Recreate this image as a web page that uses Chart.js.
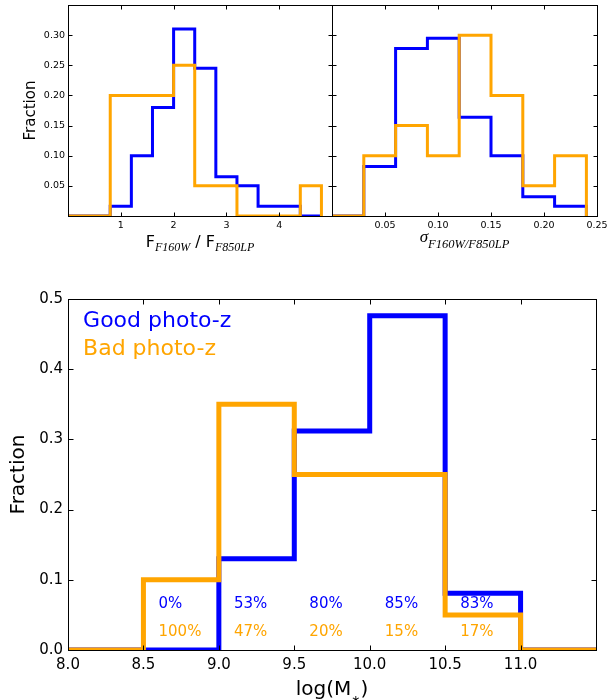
<!DOCTYPE html>
<html lang="en">
<head>
  <meta charset="UTF-8">
  <title>Good vs bad photo-z histograms</title>
  <script src="https://cdn.jsdelivr.net/npm/chart.js"></script>
  <style>
    body { margin: 0; background: white; }
    #wrap { position: relative; width: 615px; height: 700px; }
    #wrap canvas { position: absolute; left: 0; top: 0; }
  </style>
</head>
<body>
  <div id="wrap">
    <canvas id="ratioChart" width="615" height="700"></canvas>
    <canvas id="sigmaChart" width="615" height="700"></canvas>
    <canvas id="massChart" width="615" height="700"></canvas>
  </div>

  <script>
    // top left: flux ratio F160W / F850LP
    const ratioEdges = [0, 0.4, 0.8, 1.2, 1.6, 2.0, 2.4, 2.8, 3.2, 3.6, 4.0, 4.4, 4.8];
    const ratioGood = [0, 0, 0.016, 0.10, 0.18, 0.31, 0.245, 0.065, 0.05, 0.016, 0.016, 0];
    const ratioBad = [0, 0, 0.20, 0.20, 0.20, 0.25, 0.05, 0.05, 0, 0, 0, 0.05];

    // top right: sigma of the ratio
    const sigmaEdges = [0, 0.03, 0.06, 0.09, 0.12, 0.15, 0.18, 0.21, 0.24];
    const sigmaGood = [0, 0.082, 0.278, 0.295, 0.164, 0.10, 0.032, 0.016];
    const sigmaBad = [0, 0.10, 0.15, 0.10, 0.30, 0.20, 0.05, 0.10];

    // bottom: stellar mass
    const massEdges = [8.0, 8.5, 9.0, 9.5, 10.0, 10.5, 11.0, 11.5];
    const massGood = [0, 0, 0.13, 0.312, 0.476, 0.081, 0];
    const massBad = [0, 0.10, 0.35, 0.25, 0.25, 0.05, 0];

    // per-bin share of good / bad photo-z
    const pctBins = [8.5, 9.0, 9.5, 10.0, 10.5];
    const goodPct = ['0%', '53%', '80%', '85%', '83%'];
    const badPct = ['100%', '47%', '20%', '15%', '17%'];

    const BLUE = '#0000ff';
    const ORANGE = '#ffa500';
    const SANS = '"DejaVu Sans", sans-serif';
    const SERIF = '"Liberation Serif", serif';

    function stepPoints(edges, values) {
      const pts = values.map((v, i) => ({ x: edges[i], y: v }));
      pts.push({ x: edges[edges.length - 1], y: 0 });
      return pts;
    }

    function histSet(edges, values, color, width) {
      return {
        data: stepPoints(edges, values),
        borderColor: color,
        borderWidth: width,
        stepped: true,
        pointRadius: 0,
        fill: false,
        borderJoinStyle: 'miter',
        borderCapStyle: 'butt'
      };
    }

    // force the axis box size so chart areas line up across canvases
    function fixBox(size) {
      return function (scale) {
        if (scale.isHorizontal()) scale.height = size;
        else scale.width = size;
        scale.paddingLeft = scale.paddingRight = scale.paddingTop = scale.paddingBottom = 0;
      };
    }

    // matplotlib style frame with inward ticks on all four sides
    const frameTicks = {
      id: 'frameTicks',
      afterDraw(chart, args, opts) {
        const { ctx, chartArea: a, scales } = chart;
        const len = opts.len || 4;
        const L = Math.round(a.left) + 0.5, R = Math.round(a.right) + 0.5;
        const T = Math.round(a.top) + 0.5, B = Math.round(a.bottom) + 0.5;
        ctx.save();
        ctx.strokeStyle = 'black';
        ctx.lineWidth = 1;
        ctx.strokeRect(L, T, R - L, B - T);
        ctx.beginPath();
        scales.x.ticks.forEach(t => {
          const px = Math.round(scales.x.getPixelForValue(t.value)) + 0.5;
          ctx.moveTo(px, B); ctx.lineTo(px, B - len);
          ctx.moveTo(px, T); ctx.lineTo(px, T + len);
        });
        scales.y.ticks.forEach(t => {
          const py = Math.round(scales.y.getPixelForValue(t.value)) + 0.5;
          ctx.moveTo(L, py); ctx.lineTo(L + len, py);
          ctx.moveTo(R, py); ctx.lineTo(R - len, py);
        });
        ctx.stroke();
        ctx.restore();
      }
    };

    // draw text made of pieces (for subscripts), centred on cx
    function drawRich(ctx, parts, cx, baseline) {
      let total = 0;
      parts.forEach(p => { ctx.font = p.font; p.w = ctx.measureText(p.text).width; total += p.w; });
      let x = cx - total / 2;
      ctx.textAlign = 'left';
      ctx.textBaseline = 'alphabetic';
      parts.forEach(p => {
        ctx.font = p.font;
        ctx.fillText(p.text, x, baseline + (p.dy || 0));
        x += p.w;
      });
    }

    function drawVertical(ctx, text, font, x, y) {
      ctx.save();
      ctx.translate(x, y);
      ctx.rotate(-Math.PI / 2);
      ctx.font = font;
      ctx.textAlign = 'center';
      ctx.textBaseline = 'middle';
      ctx.fillText(text, 0, 0);
      ctx.restore();
    }

    function baseOptions(pad, xOpts, yOpts, tickLen) {
      const tickFont = { family: SANS, size: xOpts.fontSize };
      return {
        responsive: false,
        animation: false,
        layout: { padding: pad },
        plugins: {
          legend: { display: false },
          tooltip: { enabled: false },
          frameTicks: { len: tickLen }
        },
        scales: {
          x: {
            type: 'linear',
            min: xOpts.min, max: xOpts.max,
            grid: { display: false, drawTicks: false },
            border: { display: false },
            ticks: {
              stepSize: xOpts.step, padding: xOpts.padding, color: 'black', font: tickFont,
              maxRotation: 0, autoSkip: false, callback: xOpts.label
            },
            afterFit: fixBox(30)
          },
          y: {
            min: yOpts.min, max: yOpts.max,
            grid: { display: false, drawTicks: false },
            border: { display: false },
            ticks: {
              display: yOpts.show, stepSize: yOpts.step, padding: yOpts.padding, color: 'black',
              font: tickFont, autoSkip: false, callback: yOpts.label
            },
            afterFit: fixBox(yOpts.width)
          }
        }
      };
    }

    // ---- top left ----
    new Chart(document.getElementById('ratioChart'), {
      type: 'line',
      data: {
        datasets: [
          histSet(ratioEdges, ratioBad, ORANGE, 3),
          histSet(ratioEdges, ratioGood, BLUE, 3)
        ]
      },
      options: baseOptions(
        { left: 0, top: 5, right: 283, bottom: 454 },
        { min: 0, max: 5, step: 1, padding: 4, fontSize: 9.5, label: v => (v > 0 && v < 5) ? String(v) : '' },
        { min: 0, max: 0.35, step: 0.05, padding: 3, width: 68, show: true, label: v => (v > 0.001 && v < 0.34) ? v.toFixed(2) : '' },
        4
      ),
      plugins: [frameTicks, {
        id: 'ratioText',
        afterDraw(chart) {
          const { ctx, chartArea: a } = chart;
          ctx.save();
          ctx.fillStyle = 'black';
          drawVertical(ctx, 'Fraction', '15px ' + SANS, a.left - 37, (a.top + a.bottom) / 2);
          drawRich(ctx, [
            { text: 'F', font: '16px ' + SANS },
            { text: 'F160W', font: 'italic 12px ' + SERIF, dy: 3.5 },
            { text: ' / F', font: '16px ' + SANS },
            { text: 'F850LP', font: 'italic 12px ' + SERIF, dy: 3.5 }
          ], (a.left + a.right) / 2, a.bottom + 31);
          ctx.restore();
        }
      }]
    });

    // ---- top right ----
    new Chart(document.getElementById('sigmaChart'), {
      type: 'line',
      data: {
        datasets: [
          histSet(sigmaEdges, sigmaBad, ORANGE, 3),
          histSet(sigmaEdges, sigmaGood, BLUE, 3)
        ]
      },
      options: baseOptions(
        { left: 322, top: 5, right: 18, bottom: 454 },
        { min: 0, max: 0.25, step: 0.05, padding: 4, fontSize: 9.5, label: v => v > 0.001 ? v.toFixed(2) : '' },
        { min: 0, max: 0.35, step: 0.05, padding: 3, width: 10, show: false, label: () => '' },
        4
      ),
      plugins: [frameTicks, {
        id: 'sigmaText',
        afterDraw(chart) {
          const { ctx, chartArea: a } = chart;
          ctx.save();
          ctx.fillStyle = 'black';
          drawRich(ctx, [
            { text: 'σ', font: 'italic 17px ' + SERIF },
            { text: 'F160W/F850LP', font: 'italic 12.5px ' + SERIF, dy: 6 }
          ], (a.left + a.right) / 2, a.bottom + 26);
          ctx.restore();
        }
      }]
    });

    // ---- bottom ----
    new Chart(document.getElementById('massChart'), {
      type: 'line',
      data: {
        datasets: [
          histSet(massEdges, massBad, ORANGE, 5),
          histSet(massEdges, massGood, BLUE, 5)
        ]
      },
      options: baseOptions(
        { left: 0, top: 299, right: 19, bottom: 20 },
        { min: 8, max: 11.5, step: 0.5, padding: 6, fontSize: 15, label: v => v < 11.4 ? v.toFixed(1) : '' },
        { min: 0, max: 0.5, step: 0.1, padding: 5, width: 68, show: true, label: v => v.toFixed(1) },
        5
      ),
      plugins: [frameTicks, {
        id: 'massText',
        afterDraw(chart) {
          const { ctx, chartArea: a, scales } = chart;
          const sx = scales.x, sy = scales.y;
          ctx.save();
          ctx.textAlign = 'left';
          ctx.textBaseline = 'alphabetic';
          ctx.font = '22px ' + SANS;
          ctx.fillStyle = BLUE;
          ctx.fillText('Good photo-z', sx.getPixelForValue(8.1), sy.getPixelForValue(0.46));
          ctx.fillStyle = ORANGE;
          ctx.fillText('Bad photo-z', sx.getPixelForValue(8.1), sy.getPixelForValue(0.42));

          ctx.font = '15px ' + SANS;
          pctBins.forEach((b, i) => {
            const px = sx.getPixelForValue(b + 0.1);
            ctx.fillStyle = BLUE;
            ctx.fillText(goodPct[i], px, sy.getPixelForValue(0.06));
            ctx.fillStyle = ORANGE;
            ctx.fillText(badPct[i], px, sy.getPixelForValue(0.02));
          });

          ctx.fillStyle = 'black';
          drawVertical(ctx, 'Fraction', '20px ' + SANS, a.left - 49, (a.top + a.bottom) / 2);
          drawRich(ctx, [
            { text: 'log(M', font: '20px ' + SANS },
            { text: '∗', font: '11px ' + SANS, dy: 8 },
            { text: ')', font: '20px ' + SANS }
          ], (a.left + a.right) / 2, a.bottom + 45);
          ctx.restore();
        }
      }]
    });
  </script>
</body>
</html>
